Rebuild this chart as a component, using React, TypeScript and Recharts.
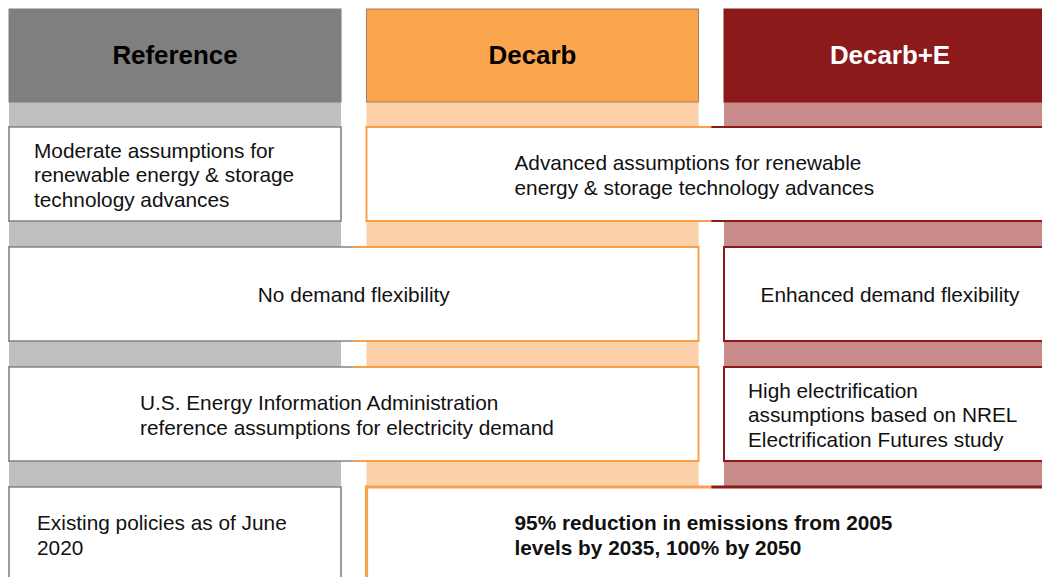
import { ComposedChart, XAxis, YAxis, ReferenceArea } from "recharts";

// scenario columns
const scenarios = ["Reference", "Decarb", "Decarb+E"];

// assumption rows, each cell spans scenario columns from..to
const rowRenewables = [
  { from: 0, to: 0, lines: ["Moderate assumptions for", "renewable energy & storage", "technology advances"] },
  { from: 1, to: 2, lines: ["Advanced assumptions for renewable", "energy & storage technology advances"] },
];
const rowFlexibility = [
  { from: 0, to: 1, lines: ["No demand flexibility"] },
  { from: 2, to: 2, lines: ["Enhanced demand flexibility"] },
];
const rowDemand = [
  { from: 0, to: 1, lines: ["U.S. Energy Information Administration", "reference assumptions for electricity demand"] },
  { from: 2, to: 2, lines: ["High electrification", "assumptions based on NREL", "Electrification Futures study"] },
];
const rowPolicy = [
  { from: 0, to: 0, lines: ["Existing policies as of June", "2020"] },
  { from: 1, to: 2, lines: ["95% reduction in emissions from 2005", "levels by 2035, 100% by 2050"] },
];
const rows = [rowRenewables, rowFlexibility, rowDemand, rowPolicy];

// styling
const headerFill = ["#7f7f7f", "#fba54f", "#8c1a1a"];
const headerInk = ["#000000", "#000000", "#ffffff"];
const bandFill = ["#bfbfbf", "#fcd0a9", "#c98a8a"];
const edgeColor = ["#858585", "#f8a04c", "#8c1a1a"];
const edgeWidth = [1.6, 2, 2];
// left text inset in px per cell (null = centred)
const textInset = [[25, 148], [null, null], [131, 24], [28, 148]];
const boldCell = [[false, false], [false, false], [false, false], [false, true]];
const thickCell = [[1, 1], [1, 1], [1, 1], [1, 1.6]];

// geometry in axis units: a column is 1 unit apart, a row is 1 unit apart
const COL_W = 0.9287;
const GAP = 1 - COL_W;
const ROW_H = 0.7833;
const X_MIN = -0.0252;
const X_MAX = X_MIN + 1042 / 357.5;
const Y_MIN = -7 / 120;
const Y_MAX = Y_MIN + 577 / 120;
const FONT = "'Liberation Sans', Arial, sans-serif";
const LINE = 24.5;

const headerShape = (i: number) => (p: any) => {
  const { x, y, width, height } = p;
  return (
    <g>
      <rect x={x} y={y} width={width} height={height} fill={headerFill[i]} stroke={i === 1 ? "#a08060" : headerFill[i]} strokeWidth={1} />
      <text
        x={x + width / 2}
        y={y + height / 2 - 1}
        textAnchor="middle"
        dominantBaseline="central"
        fontFamily={FONT}
        fontWeight="bold"
        fontSize={25.9}
        fill={headerInk[i]}
      >
        {scenarios[i]}
      </text>
    </g>
  );
};

const boxShape = (r: number, c: number) => (p: any) => {
  const cell = rows[r][c];
  const { x, y, width, height } = p;
  const u1 = cell.from;
  const u2 = cell.to + COL_W;
  const px = (u: number) => x + ((u - u1) / (u2 - u1)) * width;
  const cuts = [u1];
  for (let k = cell.from; k < cell.to; k++) cuts.push(k + COL_W + GAP / 2);
  cuts.push(u2);
  const segs = [];
  for (let k = 0; k < cuts.length - 1; k++) {
    const col = cell.from + k;
    const sw = edgeWidth[col] * thickCell[r][c];
    const xa = px(cuts[k]) - (k === 0 ? sw / 2 : 0);
    const xb = px(cuts[k + 1]);
    segs.push(
      <g key={k}>
        <line x1={xa} x2={xb} y1={y} y2={y} stroke={edgeColor[col]} strokeWidth={sw} />
        <line x1={xa} x2={xb} y1={y + height} y2={y + height} stroke={edgeColor[col]} strokeWidth={sw} />
      </g>
    );
  }
  const swl = edgeWidth[cell.from] * thickCell[r][c];
  const swr = edgeWidth[cell.to] * thickCell[r][c];
  const inset = textInset[r][c];
  const cy = y + height / 2 + 1;
  const n = cell.lines.length;
  return (
    <g>
      <rect x={x} y={y} width={width} height={height} fill="#ffffff" />
      {segs}
      <line x1={x} x2={x} y1={y - swl / 2} y2={y + height + swl / 2} stroke={edgeColor[cell.from]} strokeWidth={swl} />
      <line x1={x + width} x2={x + width} y1={y - swr / 2} y2={y + height + swr / 2} stroke={edgeColor[cell.to]} strokeWidth={swr} />
      {cell.lines.map((t, i) => (
        <text
          key={i}
          x={inset == null ? x + width / 2 : x + inset}
          y={cy + (i - (n - 1) / 2) * LINE}
          textAnchor={inset == null ? "middle" : "start"}
          dominantBaseline="central"
          fontFamily={FONT}
          fontSize={20.8}
          fontWeight={boldCell[r][c] ? "bold" : "normal"}
          fill="#111111"
        >
          {t}
        </text>
      ))}
    </g>
  );
};

export default function App() {
  return (
    <div style={{ width: 1042, height: 577 }}>
      <style>{"body{margin:0}"}</style>
      <ComposedChart width={1042} height={577} data={[]} margin={{ top: 0, right: 0, bottom: 0, left: 0 }}>
        <XAxis type="number" dataKey="x" domain={[X_MIN, X_MAX]} allowDataOverflow hide />
        <YAxis type="number" dataKey="y" domain={[Y_MIN, Y_MAX]} allowDataOverflow reversed hide />
        {scenarios.map((s, i) => (
          <ReferenceArea
            key={"band" + s}
            x1={i}
            x2={i + COL_W}
            y1={ROW_H}
            y2={Y_MAX + 1}
            fill={bandFill[i]}
            fillOpacity={1}
            stroke="none"
            ifOverflow="hidden"
          />
        ))}
        {scenarios.map((s, i) => (
          <ReferenceArea
            key={"head" + s}
            x1={i}
            x2={i + COL_W}
            y1={0.0167}
            y2={0.7917}
            ifOverflow="hidden"
            shape={headerShape(i)}
          />
        ))}
        {rows.map((row, r) =>
          row.map((cell, c) => (
            <ReferenceArea
              key={"box" + r + "-" + c}
              x1={cell.from}
              x2={cell.to + COL_W}
              y1={r + 1}
              y2={r + 1 + ROW_H}
              ifOverflow="hidden"
              shape={boxShape(r, c)}
            />
          ))
        )}
      </ComposedChart>
    </div>
  );
}
